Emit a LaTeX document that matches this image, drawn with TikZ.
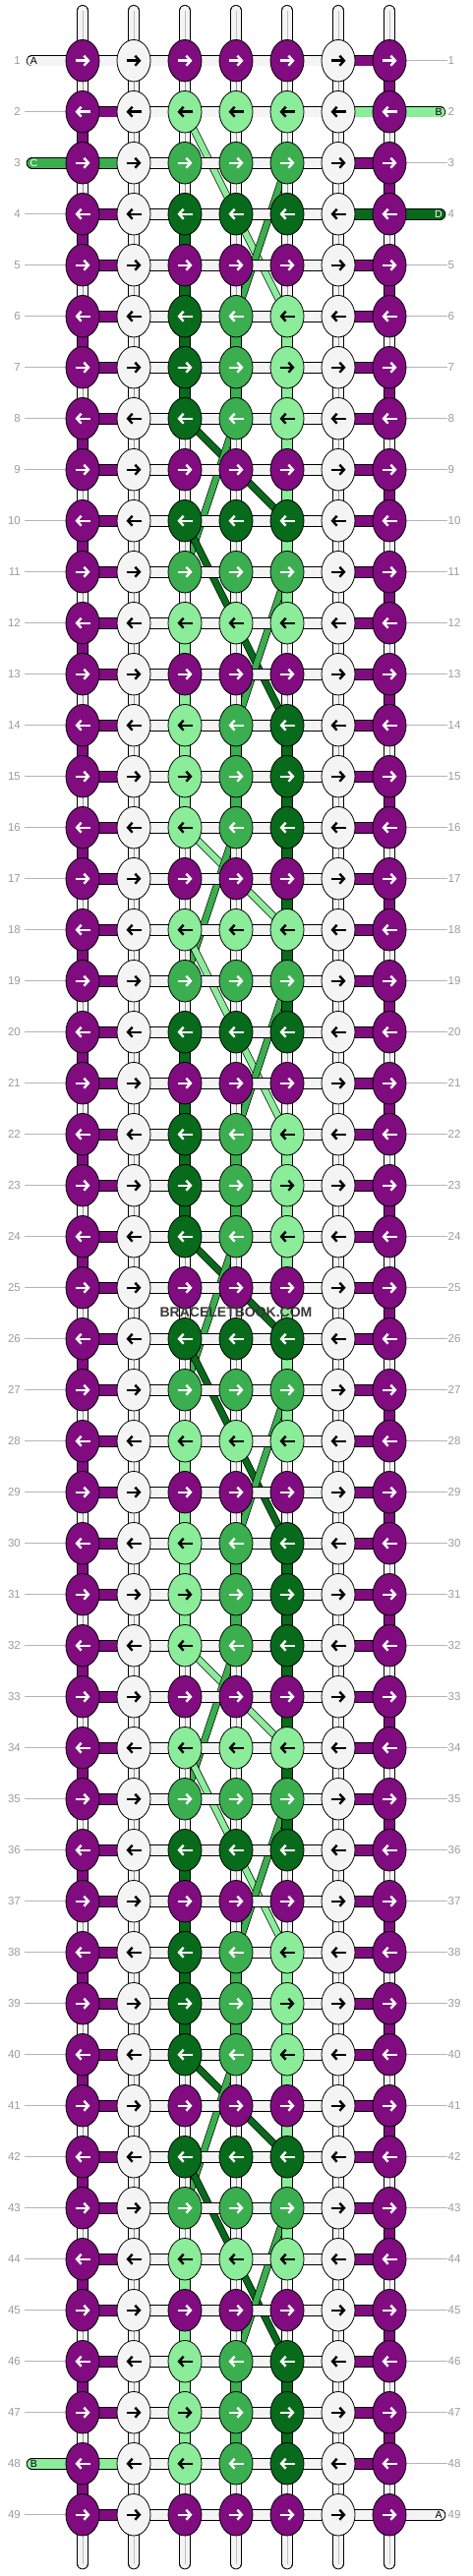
\documentclass[tikz,border=0pt]{standalone}
\usepackage{fontspec}
\setmainfont{Liberation Sans}
\usetikzlibrary{shapes.geometric, arrows.meta}

\definecolor{bbpurple}{RGB}{128,12,128}
\definecolor{bbwhite}{RGB}{244,244,244}
\definecolor{bblight}{RGB}{139,236,154}
\definecolor{bbmid}{RGB}{59,174,80}
\definecolor{bbdark}{RGB}{8,106,27}
\definecolor{bbgrey}{RGB}{155,155,155}

\pgfdeclarelayer{back}
\pgfsetlayers{back,main}

\tikzstyle{knot} = [ellipse, draw=black, line width=0.8pt, minimum width=34pt, minimum height=42.5pt, inner sep=0pt]
\tikzstyle{pknot} = [knot, fill=bbpurple]
\tikzstyle{wknot} = [knot, fill=bbwhite]
\tikzstyle{lknot} = [knot, fill=bblight]
\tikzstyle{mknot} = [knot, fill=bbmid]
\tikzstyle{dknot} = [knot, fill=bbdark]
\tikzstyle{parr} = [white]
\tikzstyle{warr} = [black]
\tikzstyle{larr} = [black]
\tikzstyle{marr} = [white]
\tikzstyle{darr} = [white]
\tikzstyle{knotarrow} = [line width=2.4pt, -{Straight Barb[length=4.5pt, width=10pt]}]
\tikzstyle{strand} = [draw=black, line width=0.8pt, double distance=10pt]
\tikzstyle{floatthread} = [draw=black, line width=0.7pt, double distance=6pt]
\tikzstyle{midline} = [draw=black!40, line width=0.7pt]
\tikzstyle{guide} = [draw=bbgrey!75, line width=0.9pt]
\tikzstyle{rownum} = [text=bbgrey, font=\fontsize{11.5}{12}\selectfont, inner sep=0pt]
\tikzstyle{stubtag} = [font=\fontsize{10.5}{11}\selectfont, inner sep=0pt]

\begin{document}
\begin{tikzpicture}[x=1pt, y=-1pt]
\useasboundingbox (0,0) rectangle (480,2620);

% knots, one block of 16 rows repeated
\foreach \m/\ka/\kb/\kc in {0/p/p/p, 1/l/l/l, 2/m/m/m, 3/d/d/d, 4/p/p/p, 5/d/m/l, 6/d/m/l, 7/d/m/l, 8/p/p/p, 9/d/d/d, 10/m/m/m, 11/l/l/l, 12/p/p/p, 13/l/m/d, 14/l/m/d, 15/l/m/d} {
  \foreach \b in {0,16,32,48} {
    \pgfmathtruncatemacro{\r}{\m+\b+1}
    \ifnum\r<50
      \pgfmathsetmacro{\y}{61.7+52*(\r-1)}
      \node (ln-\r) [rownum, anchor=east] at (21, \y) {\r};
      \node (rn-\r) [rownum, anchor=west] at (455.5, \y) {\r};
      \foreach \col/\kind in {1/p, 2/w, 3/\ka, 4/\kb, 5/\kc, 6/w, 7/p} {
        \node (k-\r-\col) [\kind knot] at ({84+52*(\col-1)}, \y) {};
        \ifodd\r
          \draw [knotarrow, \kind arr] ([xshift=-7.5pt]k-\r-\col.center) -- ([xshift=7.5pt]k-\r-\col.center);
        \else
          \draw [knotarrow, \kind arr] ([xshift=7.5pt]k-\r-\col.center) -- ([xshift=-7.5pt]k-\r-\col.center);
        \fi
      }
    \fi
  }
}

\begin{pgfonlayer}{back}
% strings at top and bottom
\foreach \col in {1,...,7} {
  \coordinate (top-\col) at ({84+52*(\col-1)}, 10.8);
  \coordinate (bot-\col) at ({84+52*(\col-1)}, 2607.5);
  \draw [strand, double=bbwhite, line cap=round] (top-\col) -- (k-1-\col.center);
  \draw [midline, draw=black!25] (top-\col) -- (k-1-\col.center);
  \draw [strand, double=bbwhite, line cap=round] (k-49-\col.center) -- (bot-\col);
  \draw [midline, draw=black!25] (k-49-\col.center) -- (bot-\col);
}

% threads floating behind the knots
\foreach \b in {0,16,32} {
  \foreach \cl/\ra/\ca/\rb/\cb in {bblight/2/3/6/5, bbmid/3/5/6/4, bbdark/8/3/10/5, bbmid/8/4/11/3, bbdark/10/3/14/5, bbmid/11/5/14/4, bblight/16/3/18/5, bbmid/16/4/19/3} {
    \pgfmathtruncatemacro{\rs}{\ra+\b}
    \pgfmathtruncatemacro{\re}{\rb+\b}
    \ifnum\re<50
      \draw [floatthread, double=\cl] (k-\rs-\ca.center) -- (k-\re-\cb.center);
    \fi
  }
}

% vertical links
\foreach \r in {1,...,48} {
  \pgfmathtruncatemacro{\s}{\r+1}
  \foreach \col in {1,...,7} {
    \draw [strand, double=bbwhite] (k-\r-\col.center) -- (k-\s-\col.center);
    \draw [midline] (k-\r-\col.center) -- (k-\s-\col.center);
  }
  \ifodd\r
    \draw [strand, double=bbpurple] (k-\r-7.center) -- (k-\s-7.center);
  \else
    \draw [strand, double=bbpurple] (k-\r-1.center) -- (k-\s-1.center);
  \fi
}
\foreach \b in {0,16,32} {
  \foreach \cl/\col/\ra/\rb in {bbdark/3/4/8, bbmid/4/6/8, bblight/5/6/12, bblight/3/12/16, bbmid/4/14/16, bbdark/5/14/20} {
    \pgfmathtruncatemacro{\rs}{\ra+\b}
    \pgfmathtruncatemacro{\re}{min(\rb+\b,48)}
    \draw [strand, double=\cl] (k-\rs-\col.center) -- (k-\re-\col.center);
  }
}

% horizontal links
\foreach \r in {1,...,49} {
  \foreach \col in {1,...,6} {
    \pgfmathtruncatemacro{\nx}{\col+1}
    \draw [strand, double=bbwhite] (k-\r-\col.center) -- (k-\r-\nx.center);
  }
}
\foreach \r in {2,4,5,...,47,49} {
  \draw [strand, double=bbpurple] (k-\r-1.center) -- (k-\r-2.center);
  \draw [guide] ([xshift=4pt]ln-\r.east) -- (k-\r-1.west);
}
\foreach \r in {1,3,5,6,...,48} {
  \draw [strand, double=bbpurple] (k-\r-6.center) -- (k-\r-7.center);
  \draw [guide] (k-\r-7.east) -- ([xshift=-1pt]rn-\r.west);
}

% loose ends
\coordinate (sl-1) at ([xshift=-51.5pt]k-1-1.center);
\coordinate (sl-3) at ([xshift=-51.5pt]k-3-1.center);
\coordinate (sl-48) at ([xshift=-51.5pt]k-48-1.center);
\coordinate (sr-2) at ([xshift=51.5pt]k-2-7.center);
\coordinate (sr-4) at ([xshift=51.5pt]k-4-7.center);
\coordinate (sr-49) at ([xshift=51.5pt]k-49-7.center);
\draw [strand, double=bbwhite, line cap=round] (sl-1) -- (k-1-1.center);
\draw [strand, double=bbmid, line cap=round] (sl-3) -- (k-3-2.center);
\draw [strand, double=bblight, line cap=round] (sl-48) -- (k-48-2.center);
\draw [strand, double=bblight, line cap=round] (k-2-6.center) -- (sr-2);
\draw [strand, double=bbdark, line cap=round] (k-4-6.center) -- (sr-4);
\draw [strand, double=bbwhite, line cap=round] (k-49-7.center) -- (sr-49);
\end{pgfonlayer}

\node (tag-a1) [stubtag] at ([xshift=2pt]sl-1) {A};
\node (tag-c) [stubtag, text=white] at ([xshift=2pt]sl-3) {C};
\node (tag-b1) [stubtag] at ([xshift=2pt]sl-48) {B};
\node (tag-b2) [stubtag] at ([xshift=-1.5pt]sr-2) {B};
\node (tag-d) [stubtag, text=white] at ([xshift=-1.5pt]sr-4) {D};
\node (tag-a2) [stubtag] at ([xshift=-1.5pt]sr-49) {A};

\node (mark) [font=\bfseries\fontsize{14}{14}\selectfont, text=black!78] at (240, 1335) {BRACELETBOOK.COM};
\end{tikzpicture}
\end{document}
